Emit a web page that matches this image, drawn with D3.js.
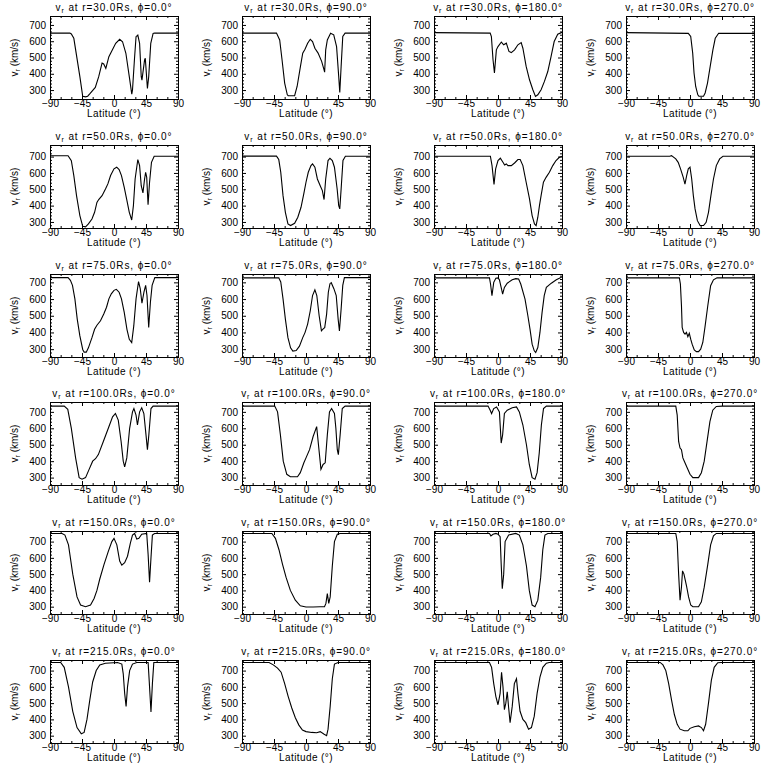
<!DOCTYPE html>
<html><head><meta charset="utf-8">
<script src="https://cdn.jsdelivr.net/npm/d3@7"></script>
<style>
html,body{margin:0;padding:0;background:#fff;}
svg text{font-family:"Liberation Sans",Arial,sans-serif;fill:#000;}
</style></head>
<body><svg id="chart" width="768" height="768"></svg>
<script>
// ---- labels ----
const radii = ["30.0", "50.0", "75.0", "100.0", "150.0", "215.0"];
const phis = ["0.0", "90.0", "180.0", "270.0"];
const latTicks = [-90, -45, 0, 45, 90];
const vTicks = [300, 400, 500, 600, 700];
const latDomain = [-90, 90];
// y-range per row (r = 30, 50, 75, 100, 150, 215)
const vRanges = [[245, 755], [263, 771], [253, 750], [255, 760], [255, 765], [255, 765]];

// ---- series: [latitude (deg), v_r (km/s)] ----
const r30_phi0 = [[-90,650],[-62,650],[-60,645],[-56.5,618],[-48,382],[-44,262],[-40,258],[-37,262],[-33.5,279],[-26.3,316],[-21.5,382],[-16.8,466],[-14.5,460],[-11.5,433],[-7.2,505],[-2.4,546],[2.4,587],[8,612],[12,597],[16.7,526],[21.5,382],[25,275],[26,300],[28.7,485],[31,628],[33.5,638],[36,587],[38.3,382],[39.3,361],[43,485],[44,495],[47,310],[48.8,382],[51.7,587],[55,648],[57,650],[90,650]];
const r30_phi90 = [[-90,650],[-41.5,650],[-37,608],[-33.7,486],[-30,343],[-26.3,271],[-25,265],[-16,265],[-12.5,322],[-7.8,445],[-4.6,527],[-1.4,551],[2.3,588],[6,612],[9.2,598],[12.5,557],[17,527],[22,476],[25.4,424],[26.2,410],[27.7,547],[30,608],[34.6,649],[39,639],[43,567],[46,384],[47.5,285],[49.4,445],[51.7,629],[55,650],[90,650]];
const r30_phi180 = [[-90,653],[-11,650],[-9.3,629],[-7,486],[-5,405],[-2.3,547],[0,567],[4.7,595],[8,578],[11.7,588],[15.4,537],[18.7,530],[23.3,547],[28,578],[32.6,592],[35,557],[39.6,445],[44.3,363],[49,302],[52.7,261],[56,271],[60.6,302],[65.3,353],[70,414],[74.6,506],[79,598],[84,643],[90,655]];
const r30_phi270 = [[-90,653],[-2.4,648],[1,629],[3.8,527],[5.7,404],[8,322],[11,271],[12.5,262],[19,262],[21.3,282],[24.6,343],[28.4,445],[32.2,547],[35.5,618],[40.3,649],[90,648]];

const r50_phi0 = [[-90,705],[-64.6,705],[-60,675],[-56.5,584],[-52.7,461],[-48,339],[-44,273],[-40,270],[-36,288],[-31,318],[-27.3,359],[-24,420],[-21.5,437],[-16.8,461],[-12,502],[-8.6,533],[-4.8,584],[0,625],[3.8,635],[7.2,620],[10.5,584],[14.4,512],[18.2,431],[21.5,359],[24.9,312],[27.3,400],[29.7,563],[33.5,682],[36,645],[38.3,522],[40.7,478],[43,563],[44.5,604],[46,573],[47.9,405],[50,543],[52.7,665],[56.5,702],[90,702]];
const r50_phi90 = [[-90,703],[-41.5,703],[-38.3,682],[-35.5,604],[-32.3,461],[-29,359],[-25.4,288],[-21.7,278],[-16,292],[-11.5,329],[-7,390],[-3.2,471],[0,543],[3.2,604],[7,645],[9.2,655],[12.5,635],[16,563],[20,522],[23,492],[25.4,437],[27.7,563],[31,676],[33.7,690],[37,676],[40,635],[43.8,502],[46,400],[47.5,380],[49.4,502],[52,676],[55.4,702],[90,702]];
const r50_phi180 = [[-90,702],[-10.7,702],[-8.4,645],[-5.6,530],[-3.3,625],[0,676],[3.3,690],[7,665],[9.3,649],[11.7,655],[14,645],[18.7,645],[23.3,661],[28,682],[31.2,682],[35,645],[39.6,543],[44.3,441],[48,339],[51.3,288],[53.6,278],[56,329],[58.3,400],[60.6,461],[63.9,543],[67.6,573],[72.3,604],[77,645],[81.6,676],[86.3,696],[90,702]];
const r50_phi270 = [[-90,702],[-28.4,702],[-26,706],[-20,686],[-16.6,665],[-13.3,625],[-9.5,573],[-7.1,532],[-4.7,584],[-2.4,625],[0,635],[2.4,563],[4.7,461],[7.1,380],[10.4,308],[14.2,278],[19,278],[22.7,298],[26,359],[29.4,461],[33,563],[37,645],[41.7,686],[46.4,702],[90,702]];

const r75_phi0 = [[-90,728],[-64.6,728],[-61.3,712],[-58.4,682],[-55,601],[-51.7,480],[-48,379],[-44,298],[-42,282],[-39,282],[-36,308],[-31,369],[-27.3,419],[-24,443],[-19,470],[-14.4,510],[-10.5,551],[-7.2,601],[-3.8,631],[0,652],[3.3,658],[7.2,641],[10.5,601],[14.4,520],[18.2,419],[21.5,359],[24.9,340],[27.8,439],[31,601],[34.5,705],[36.9,662],[39.3,575],[42.1,641],[44.5,682],[46.4,621],[48.8,430],[51.2,581],[53.6,682],[57.4,728],[90,728]];
const r75_phi90 = [[-90,727],[-38.3,727],[-35.5,702],[-32.3,601],[-29,480],[-25.4,369],[-21.7,308],[-18.5,288],[-13.8,292],[-9.2,318],[-4.6,369],[-1.4,399],[2.3,450],[6,530],[9.2,621],[12.5,655],[15.2,621],[18.5,500],[21.7,410],[24.5,423],[26.3,429],[29,510],[31.4,641],[33.7,692],[35.5,698],[39.2,662],[42.5,621],[45.2,480],[47,409],[49.4,540],[51.7,682],[54,728],[90,728]];
const r75_phi180 = [[-90,727],[-12,727],[-10.5,690],[-8.5,620],[-6,700],[-3,725],[0,727],[2,715],[5,660],[6.5,630],[9,670],[13,695],[20,715],[25,722],[29,720],[32,690],[38,600],[42,500],[45,420],[48,330],[51,290],[53,280],[56,310],[59,400],[62,520],[65,620],[68,670],[75,695],[82,715],[90,732]];
const r75_phi270 = [[-90,727],[-15,727],[-13.5,690],[-12,560],[-11,430],[-9,400],[-7,390],[-5,400],[-3,375],[-1,395],[1,360],[3,330],[6,295],[9,285],[12,285],[15,300],[18,340],[21,430],[25,560],[29,680],[33,715],[38,727],[90,727]];

const r100_phi0 = [[-90,735],[-70,735],[-65,715],[-60,600],[-54,420],[-49,300],[-45,290],[-40,300],[-35,350],[-30,400],[-26,415],[-22,440],[-15,520],[-8,600],[-2,670],[2,690],[6,650],[10,520],[13,400],[15,365],[18,420],[22,600],[26,700],[28,720],[31,680],[33,620],[36,700],[39,725],[42,690],[45,560],[47,470],[49,560],[52,720],[55,735],[90,735]];
const r100_phi90 = [[-90,735],[-44,735],[-40,700],[-36,560],[-32,400],[-27,320],[-22,305],[-12,305],[-8,330],[-3,390],[0,420],[5,470],[10,550],[15,610],[18,480],[21,350],[24,380],[27,390],[30,560],[33,700],[36,720],[40,690],[42,600],[44,470],[45.5,440],[48,560],[51,720],[55,735],[90,735]];
const r100_phi180 = [[-90,735],[-14,735],[-11,710],[-9,690],[-6,720],[-2,730],[2,700],[4.5,510],[6.5,560],[9,690],[13,710],[20,725],[26,730],[30,700],[35,620],[40,500],[44,380],[48,300],[52,290],[55,330],[58,450],[61,620],[64,720],[68,735],[90,735]];
const r100_phi270 = [[-90,735],[-20,735],[-18,680],[-16,520],[-14,480],[-12,470],[-10,420],[-8,400],[-4,360],[0,320],[4,300],[12,300],[16,330],[20,400],[24,520],[28,640],[32,710],[37,733],[45,735],[90,735]];

const r150_phi0 = [[-90,750],[-73,750],[-69,740],[-64,680],[-58,500],[-52,360],[-47,310],[-40,300],[-33,310],[-28,350],[-24,400],[-20,470],[-14,560],[-8,640],[-3,700],[0,720],[4,680],[8,580],[11,555],[15,570],[19,610],[23,690],[26,740],[29,750],[32,715],[35,720],[39,745],[46,750],[48,620],[50,450],[52,600],[54,740],[57,750],[90,750]];
const r150_phi90 = [[-90,750],[-48,750],[-43,720],[-38,650],[-33,560],[-28,480],[-22,400],[-15,340],[-8,305],[0,298],[10,298],[20,300],[26,300],[28,320],[30,380],[32,320],[34,360],[37,550],[40,700],[44,745],[48,750],[90,750]];
const r150_phi180 = [[-90,750],[-12,750],[-10,735],[-7,745],[-3,750],[0,745],[3,730],[4.5,560],[6,410],[8,500],[10,700],[15,740],[25,750],[30,740],[35,680],[40,550],[44,400],[48,310],[52,300],[56,340],[60,480],[63,650],[66,740],[70,750],[90,750]];
const r150_phi270 = [[-90,750],[-20,750],[-18,700],[-16,500],[-14,340],[-12,420],[-10.5,520],[-8.5,500],[-5,430],[-2,360],[1,310],[4,300],[12,300],[16,330],[20,420],[25,560],[29,680],[33,735],[37,750],[90,750]];

const r215_phi0 = [[-90,750],[-75,750],[-70,720],[-64,600],[-58,450],[-52,350],[-46,312],[-42,320],[-38,400],[-34,520],[-30,630],[-25,700],[-20,735],[-12,745],[5,750],[11,740],[13,680],[15,560],[17,480],[19,600],[22,700],[26,740],[32,750],[48,750],[50,600],[52,445],[54,620],[56,750],[90,750]];
const r215_phi90 = [[-90,750],[-52,750],[-46,735],[-40,715],[-35,690],[-30,620],[-25,540],[-20,470],[-15,410],[-10,365],[-5,335],[0,325],[8,320],[15,318],[20,325],[25,310],[29,300],[31,340],[34,480],[37,650],[40,740],[45,750],[90,750]];
const r215_phi180 = [[-90,750],[-12,750],[-9,720],[-6,620],[-3,540],[0,490],[3,560],[5,690],[7,600],[9,460],[11,500],[13,570],[15,470],[17,380],[20,480],[23,620],[26,650],[28,560],[31,450],[35,400],[39,380],[43,340],[47,350],[51,420],[55,560],[59,660],[63,720],[68,745],[72,750],[90,750]];
const r215_phi270 = [[-90,750],[-42,750],[-38,735],[-34,700],[-30,620],[-26,520],[-22,430],[-18,370],[-14,340],[-8,330],[-3,330],[0,345],[6,355],[12,360],[16,350],[19,330],[22,370],[26,500],[30,640],[34,720],[39,748],[44,750],[90,750]];

const panels = [
  [r30_phi0, r30_phi90, r30_phi180, r30_phi270],
  [r50_phi0, r50_phi90, r50_phi180, r50_phi270],
  [r75_phi0, r75_phi90, r75_phi180, r75_phi270],
  [r100_phi0, r100_phi90, r100_phi180, r100_phi270],
  [r150_phi0, r150_phi90, r150_phi180, r150_phi270],
  [r215_phi0, r215_phi90, r215_phi180, r215_phi270]
];

// ---- layout ----
const colX0 = 50, colStep = 192, plotW = 128;
const rowY0 = 16, rowStep = 128.8, plotH = 83;
const fs = 10;

const svg = d3.select("#chart");
svg.append("rect").attr("width", 768).attr("height", 768).attr("fill", "#fff");

panels.forEach((row, ri) => {
  row.forEach((series, ci) => {
    const x0 = colX0 + ci * colStep;
    const y0 = Math.round(rowY0 + ri * rowStep);
    const g = svg.append("g").attr("transform", `translate(${x0},${y0})`);
    const x = d3.scaleLinear().domain(latDomain).range([0, plotW]);
    const y = d3.scaleLinear().domain(vRanges[ri]).range([plotH, 0]);

    const clipId = `clip-${ri}-${ci}`;
    g.append("clipPath").attr("id", clipId).append("rect")
      .attr("width", plotW).attr("height", plotH);

    const xMinor = d3.range(-90, 91, 15).filter(v => !latTicks.includes(v));
    const yMinor = d3.range(Math.ceil(vRanges[ri][0] / 20) * 20, vRanges[ri][1], 20).filter(v => !vTicks.includes(v));

    g.append("g").attr("transform", `translate(0,${plotH})`)
      .call(d3.axisBottom(x).tickValues(latTicks).tickSizeInner(-4).tickSizeOuter(0).tickPadding(1)
        .tickFormat(d => d < 0 ? "\u2212" + Math.abs(d) : d));
    g.append("g")
      .call(d3.axisTop(x).tickValues(latTicks).tickSizeInner(-4).tickSizeOuter(0).tickFormat(""));
    g.append("g")
      .call(d3.axisLeft(y).tickValues(vTicks).tickSizeInner(-4).tickSizeOuter(0).tickPadding(4));
    g.append("g").attr("transform", `translate(${plotW},0)`)
      .call(d3.axisRight(y).tickValues(vTicks).tickSizeInner(-4).tickSizeOuter(0).tickFormat(""));
    // minor ticks
    g.append("g").attr("transform", `translate(0,${plotH})`)
      .call(d3.axisBottom(x).tickValues(xMinor).tickSizeInner(-2).tickSizeOuter(0).tickFormat(""));
    g.append("g")
      .call(d3.axisTop(x).tickValues(xMinor).tickSizeInner(-2).tickSizeOuter(0).tickFormat(""));
    g.append("g")
      .call(d3.axisLeft(y).tickValues(yMinor).tickSizeInner(-2).tickSizeOuter(0).tickFormat(""));
    g.append("g").attr("transform", `translate(${plotW},0)`)
      .call(d3.axisRight(y).tickValues(yMinor).tickSizeInner(-2).tickSizeOuter(0).tickFormat(""));

    g.selectAll(".domain").remove();
    g.selectAll(".tick line").attr("stroke", "#000").attr("stroke-width", 1);
    g.selectAll(".tick text").attr("font-size", fs).attr("font-family", null)
      .style("font-family", "'Liberation Sans',Arial,sans-serif");

    g.append("rect").attr("x", 0).attr("y", 0).attr("width", plotW).attr("height", plotH)
      .attr("fill", "none").attr("stroke", "#000").attr("stroke-width", 1)
      .attr("shape-rendering", "crispEdges");

    const line = d3.line().x(d => x(d[0])).y(d => y(d[1]));
    g.append("path").datum(series)
      .attr("clip-path", `url(#${clipId})`)
      .attr("fill", "none").attr("stroke", "#000").attr("stroke-width", 1.1)
      .attr("d", line);

    // title
    const t = g.append("text").attr("x", plotW / 2).attr("y", -5.5)
      .attr("text-anchor", "middle").attr("font-size", fs).attr("letter-spacing", 0.9);
    t.append("tspan").text("v");
    t.append("tspan").attr("font-size", 7).attr("dy", 2).text("r");
    t.append("tspan").attr("dy", -2).text(` at r=${radii[ri]}Rs, \u03D5=${phis[ci]}\u00B0`);

    // x label
    g.append("text").attr("x", plotW / 2).attr("y", plotH + 18)
      .attr("text-anchor", "middle").attr("font-size", fs).attr("letter-spacing", 0.4)
      .text("Latitude (\u00B0)");

    // y label
    const yl = g.append("text")
      .attr("transform", `translate(-32,${plotH / 2}) rotate(-90)`)
      .attr("text-anchor", "middle").attr("font-size", fs);
    yl.append("tspan").text("v");
    yl.append("tspan").attr("font-size", 7).attr("dy", 2).text("r");
    yl.append("tspan").attr("dy", -2).text(" (km/s)");
  });
});
</script></body></html>
